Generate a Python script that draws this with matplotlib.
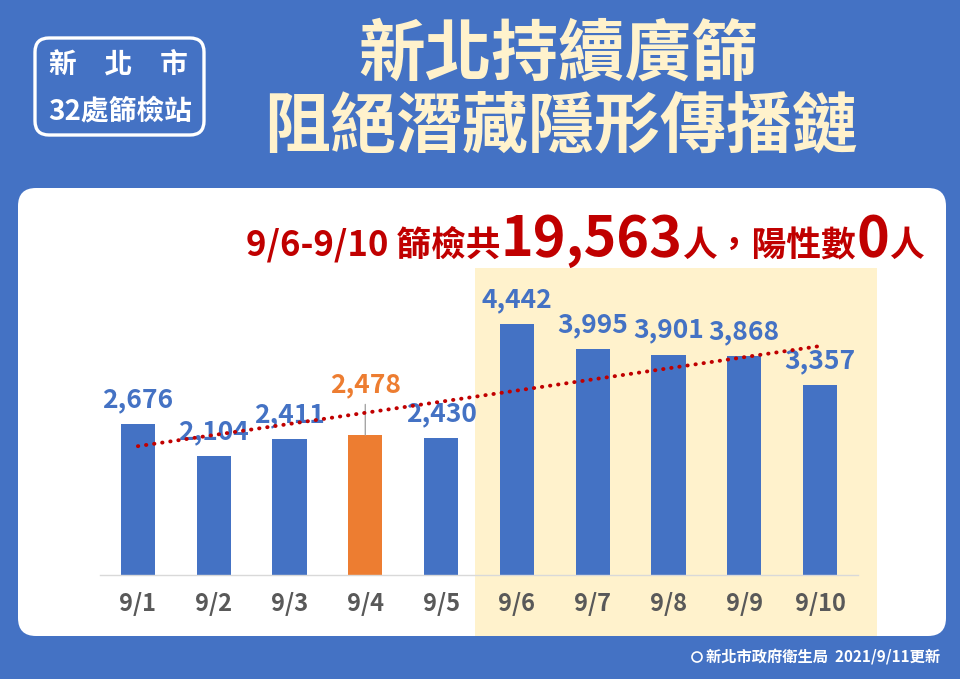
import numpy as np
import matplotlib
matplotlib.use("Agg")
import matplotlib.pyplot as plt
from matplotlib.patches import FancyBboxPatch, Rectangle, Circle
import matplotlib.transforms as mtransforms

plt.rcParams['font.family'] = ['Noto Sans CJK TC', 'DejaVu Sans']

dates = ['9/1', '9/2', '9/3', '9/4', '9/5', '9/6', '9/7', '9/8', '9/9', '9/10']
tests = [2676, 2104, 2411, 2478, 2430, 4442, 3995, 3901, 3868, 3357]
highlight_idx = 3          # 9/4 drawn in orange
period_start = 5           # 9/6 .. 9/10 shaded

title_lines = ['新北持續廣篩', '阻絕潛藏隱形傳播鏈']
box_lines = ['新\u3000北\u3000市', '32處篩檢站']
summary_parts = [('9/6-9/10 篩檢共', 25), ('19,563', 40), ('人，陽性數', 25), ('0', 40), ('人', 25)]
footer = '新北市政府衛生局  2021/9/11更新'

BG = '#4472C4'
BAR = '#4472C4'
ORANGE = '#ED7D31'
RED = '#C00000'
CREAM = '#FFF2CC'
GRAY = '#595959'

W, H = 960, 679
fig = plt.figure(figsize=(W / 100, H / 100), dpi=100)
fig.patch.set_facecolor(BG)

# pixel-space background axes
bg = fig.add_axes([0, 0, 1, 1])
bg.set_xlim(0, W)
bg.set_ylim(H, 0)
bg.axis('off')

bg.add_patch(FancyBboxPatch((18, 188), 928, 448, boxstyle='round,pad=0,rounding_size=18',
                            fc='white', ec='none'))
bg.add_patch(FancyBboxPatch((35, 38), 169, 97, boxstyle='round,pad=0,rounding_size=14',
                            fc='none', ec='white', lw=2.4))
bg.text(118, 65, box_lines[0], color='white', fontsize=20, fontweight='bold', ha='center', va='center')
bg.text(120, 111, box_lines[1], color='white', fontsize=20, fontweight='bold', ha='center', va='center')

bg.text(558, 55, title_lines[0], color=CREAM, fontsize=48, fontweight='bold', ha='center', va='center')
bg.text(561, 127, title_lines[1], color=CREAM, fontsize=47.5, fontweight='bold', ha='center', va='center')

# summary line, pieces placed one after another on a common baseline
renderer = fig.canvas.get_renderer()
x = 246
for txt, fs in summary_parts:
    t = bg.text(x, 256, txt, color=RED, fontsize=fs, fontweight='bold', ha='left', va='baseline')
    bb = t.get_window_extent(renderer)
    x += bb.width

bg.add_patch(Circle((697, 657), 5, fc='none', ec='white', lw=1.2))
bg.text(706, 657, footer, color='white', fontsize=11, fontweight='bold', ha='left', va='center')

# chart axes
left, right = 100 / W, 858 / W
bottom, top = (H - 575) / H, (H - 270) / H
ax = fig.add_axes([left, bottom, right - left, top - bottom])
ax.patch.set_alpha(0)
ax.set_xlim(-0.5, len(dates) - 0.5)
ymax = 305 / 0.0565
ax.set_ylim(0, ymax)

xs = np.arange(len(dates))

# shaded period (x in data, y in figure coords)
trans = mtransforms.blended_transform_factory(ax.transData, fig.transFigure)
ax.add_patch(Rectangle((period_start - 0.55, (H - 636) / H), 5.3, (636 - 268) / H,
                       transform=trans, fc=CREAM, ec='none', zorder=0, clip_on=False))

colors = [ORANGE if i == highlight_idx else BAR for i in range(len(dates))]
ax.bar(xs, tests, width=0.45, color=colors, zorder=2)

# linear trendline
k, b = np.polyfit(xs, tests, 1)
ax.plot([xs[0], xs[-1]], [k * xs[0] + b, k * xs[-1] + b], color=RED, lw=2.8,
        linestyle=(0, (0.1, 2.0)), dash_capstyle='round', zorder=4)

for i, v in enumerate(tests):
    if i == highlight_idx:
        ax.annotate('', xy=(i, v), xytext=(0, 22), textcoords='offset points',
                    arrowprops=dict(arrowstyle='-', color='#A6A6A6', lw=1,
                                    shrinkA=0, shrinkB=0), zorder=3)
        ax.annotate(f'{v:,}', xy=(i, v), xytext=(0, 36), textcoords='offset points',
                    ha='center', va='center', color=ORANGE, fontsize=19, fontweight='bold', zorder=3)
    else:
        ax.annotate(f'{v:,}', xy=(i, v), xytext=(0, 17.5), textcoords='offset points',
                    ha='center', va='center', color=BAR, fontsize=19, fontweight='bold', zorder=3)

ax.set_xticks(xs)
ax.set_xticklabels(dates, fontsize=17, fontweight='bold', color=GRAY)
ax.tick_params(axis='x', length=0, pad=12)
ax.set_yticks([])
for s in ['top', 'right', 'left']:
    ax.spines[s].set_visible(False)
ax.spines['bottom'].set_color('#D9D9D9')
ax.spines['bottom'].set_linewidth(1)

fig.savefig('out.png', dpi=100, facecolor=BG)
